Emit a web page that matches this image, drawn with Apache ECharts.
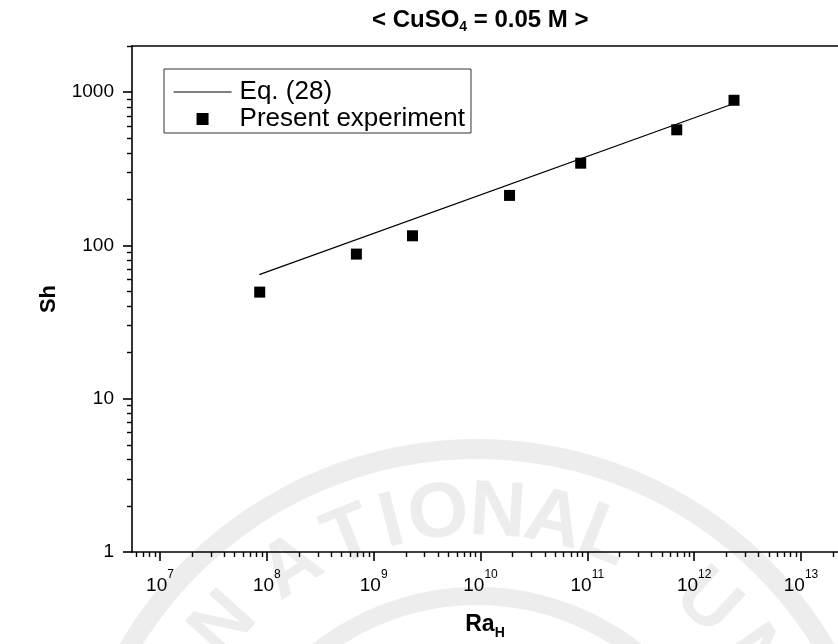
<!DOCTYPE html>
<html>
<head>
<meta charset="utf-8">
<script src="https://cdn.jsdelivr.net/npm/echarts@6/dist/echarts.min.js"></script>
<style>
  html, body { margin: 0; padding: 0; background: #fff; }
  #chart { width: 838px; height: 644px; }
</style>
</head>
<body>
<div id="chart"></div>
<script>
// Measured Sherwood numbers against the Rayleigh number (CuSO4 = 0.05 M)
const raH = [8.58e7, 6.89e8, 2.31e9, 1.87e10, 8.67e10, 6.87e11, 2.36e12];
const shMeasured = [49.6, 87.8, 115.6, 212, 344, 568, 885];

// Correlation Eq. (28): straight line on log-log axes, two end points
const eqRa = [8.5e7, 2.36e12];
const eqSh = [64.5, 843];

// Axis ranges and tick labels
const xRange = [5.47e6, 2.22e13];
const yRange = [1, 2000];
const xMajorTicks = [1e7, 1e8, 1e9, 1e10, 1e11, 1e12, 1e13];
const yMajorTicks = [1, 10, 100, 1000];

// Seal letters in the background: [letter, angle in degrees]
const sealLetters = [['N', -48], ['A', -33], ['T', -22], ['I', -14.5], ['O', -6.5],
                     ['N', 3.5], ['A', 13], ['L', 22], ['U', 42.5], ['N', 55]];

function minorTicks(range) {
  const out = [];
  for (let e = Math.floor(Math.log10(range[0])); e <= Math.ceil(Math.log10(range[1])); e++) {
    for (let m = 2; m <= 9; m++) {
      const v = m * Math.pow(10, e);
      if (v >= range[0] && v <= range[1]) out.push(v);
    }
  }
  return out;
}

const FONT = "'Liberation Sans', Arial, sans-serif";
const BLACK = '#000';

// Background seal graphics
const sealCx = 477, sealCy = 853;
const sealGraphics = [
  { type: 'ring', z: -10, silent: true, shape: { cx: sealCx, cy: sealCy, r: 414, r0: 394 }, style: { fill: '#ededed' } },
  { type: 'ring', z: -10, silent: true, shape: { cx: sealCx, cy: sealCy, r: 266, r0: 248 }, style: { fill: '#ededed' } }
];
sealLetters.forEach(([ch, deg]) => {
  const t = deg * Math.PI / 180, r = 340;
  sealGraphics.push({
    type: 'text', z: -10, silent: true,
    x: sealCx + r * Math.sin(t), y: sealCy - r * Math.cos(t),
    rotation: -t,
    style: { text: ch, fill: '#ededed', font: "bold 78px " + FONT, align: 'center', verticalAlign: 'middle' }
  });
});

const chart = echarts.init(document.getElementById('chart'), null, { renderer: 'canvas' });

const baseLabel = { color: BLACK, fontFamily: FONT };

chart.setOption({
  backgroundColor: '#fff',
  animation: false,
  title: {
    text: '{t|< CuSO}{s|4}{t| = 0.05 M >}',
    left: 367, top: 1,
    textStyle: {
      rich: {
        t: { fontSize: 24, fontWeight: 'bold', color: BLACK, fontFamily: FONT, lineHeight: 28 },
        s: { fontSize: 14, fontWeight: 'bold', color: BLACK, fontFamily: FONT, verticalAlign: 'bottom', lineHeight: 14 }
      }
    }
  },
  graphic: sealGraphics,
  grid: { left: 132, right: 0, top: 46, bottom: 92, containLabel: false, outerBoundsMode: 'none' },
  legend: {
    orient: 'vertical', left: 164, top: 69,
    padding: [10, 6, 1, 9],
    itemWidth: 58, itemHeight: 12, itemGap: 1,
    symbolKeepAspect: true,
    borderColor: '#333', borderWidth: 1,
    textStyle: { fontSize: 26, color: BLACK, fontFamily: FONT, padding: [0, 0, 0, 3] },
    data: [
      { name: 'Eq. (28)', itemStyle: { opacity: 0 }, lineStyle: { width: 1.1 } },
      { name: 'Present experiment', icon: 'path://M0,0h12v12h-12z', itemStyle: { color: BLACK, opacity: 1 } }
    ]
  },
  xAxis: [
    {
      type: 'log', logBase: 10, min: xRange[0], max: xRange[1], position: 'bottom',
      name: '{b|Ra}{h|H}', nameLocation: 'middle', nameGap: 58,
      nameTextStyle: {
        rich: {
          b: { fontSize: 23, fontWeight: 'bold', color: BLACK, fontFamily: FONT, lineHeight: 30 },
          h: { fontSize: 14, fontWeight: 'bold', color: BLACK, fontFamily: FONT, verticalAlign: 'bottom', lineHeight: 16 }
        }
      },
      axisLine: { show: true, onZero: false, lineStyle: { color: BLACK, width: 1.6 } },
      axisTick: { show: true, inside: false, length: 9, customValues: xMajorTicks, lineStyle: { color: BLACK, width: 1.6 } },
      axisLabel: {
        show: true, margin: 17, customValues: xMajorTicks,
        formatter: v => '{b|10}{s|' + Math.round(Math.log10(v)) + '}',
        rich: {
          b: Object.assign({ fontSize: 19, lineHeight: 26, verticalAlign: 'bottom' }, baseLabel),
          s: Object.assign({ fontSize: 12, lineHeight: 12, verticalAlign: 'top' }, baseLabel)
        }
      },
      splitLine: { show: false }
    },
    {
      type: 'log', logBase: 10, min: xRange[0], max: xRange[1], position: 'bottom',
      axisLine: { show: false },
      axisTick: { show: true, inside: false, length: 5, customValues: minorTicks(xRange), lineStyle: { color: BLACK, width: 1.4 } },
      axisLabel: { show: false },
      splitLine: { show: false }
    },
    {
      type: 'log', logBase: 10, min: xRange[0], max: xRange[1], position: 'top',
      axisLine: { show: true, onZero: false, lineStyle: { color: BLACK, width: 1.6 } },
      axisTick: { show: false }, axisLabel: { show: false }, splitLine: { show: false }
    }
  ],
  yAxis: [
    {
      type: 'log', logBase: 10, min: yRange[0], max: yRange[1], position: 'left',
      name: 'Sh', nameLocation: 'middle', nameGap: 72, nameRotate: 90,
      nameTextStyle: { fontSize: 22, fontWeight: 'bold', color: BLACK, fontFamily: FONT },
      axisLine: { show: true, onZero: false, lineStyle: { color: BLACK, width: 1.6 } },
      axisTick: { show: true, inside: false, length: 9, customValues: yMajorTicks, lineStyle: { color: BLACK, width: 1.6 } },
      axisLabel: Object.assign({ show: true, margin: 18, fontSize: 19, customValues: yMajorTicks, formatter: v => String(Math.round(v)) }, baseLabel),
      splitLine: { show: false }
    },
    {
      type: 'log', logBase: 10, min: yRange[0], max: yRange[1], position: 'left',
      axisLine: { show: false },
      axisTick: { show: true, inside: false, length: 5, customValues: minorTicks(yRange), lineStyle: { color: BLACK, width: 1.4 } },
      axisLabel: { show: false },
      splitLine: { show: false }
    }
  ],
  series: [
    {
      name: 'Eq. (28)', type: 'line', xAxisIndex: 0, yAxisIndex: 0,
      symbol: 'none', data: eqRa.map((x, i) => [x, eqSh[i]]),
      lineStyle: { color: BLACK, width: 1.2 }, itemStyle: { color: BLACK }, z: 3
    },
    {
      name: 'Present experiment', type: 'scatter', xAxisIndex: 0, yAxisIndex: 0,
      symbol: 'rect', symbolSize: 11, data: raH.map((x, i) => [x, shMeasured[i]]),
      itemStyle: { color: BLACK, opacity: 1 }, z: 4
    }
  ]
});
</script>
</body>
</html>
